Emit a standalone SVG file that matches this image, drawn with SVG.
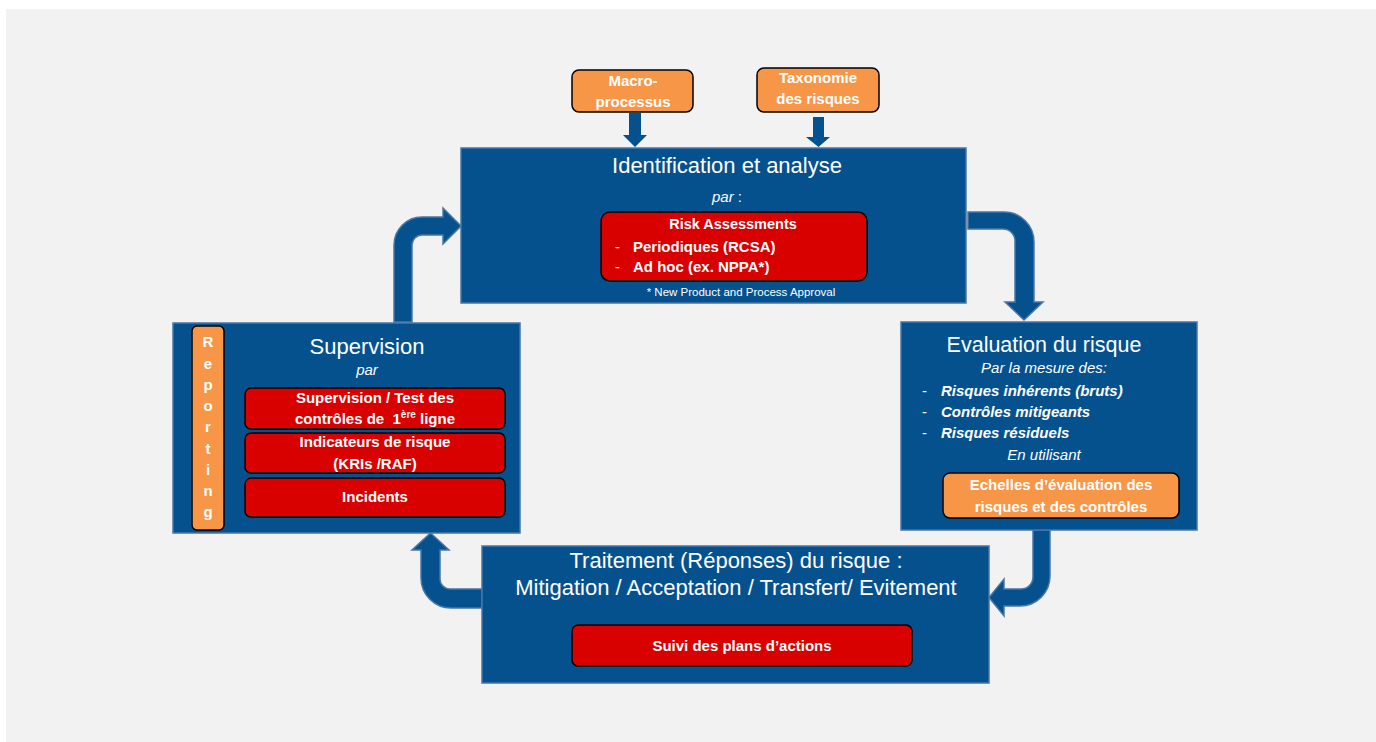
<svg xmlns="http://www.w3.org/2000/svg" width="1376" height="742" viewBox="0 0 1376 742">
<style>
.box{fill:#05518e;stroke:#4a76a6;stroke-width:1.5}
.red{fill:#d90000;stroke:#000;stroke-width:1.5}
.org{fill:#f79646;stroke:#000;stroke-width:1.5}
.arr{fill:#05518e;stroke:#4a76a6;stroke-width:1.5;stroke-linejoin:miter}
text{font-family:"Liberation Sans",Arial,sans-serif;fill:#fff}
.t{font-size:22px;text-anchor:middle}
.it{font-size:15px;font-style:italic;text-anchor:middle}
.b{font-size:15px;font-weight:bold;text-anchor:middle}
.bl{font-size:15px;font-weight:bold}
.bi{font-size:15px;font-weight:bold;font-style:italic}
.d{font-size:15px}
.sm{font-size:11.5px;text-anchor:middle}
</style>
<rect x="0" y="0" width="1376" height="742" fill="#ffffff"/>
<rect x="6" y="9" width="1370" height="733" fill="#f2f2f2"/>

<g id="connectors">
  <path class="arr" d="M394,322 L394,245 A28,28 0 0 1 422,217 L443,217 L443,208 L461,226 L443,244 L443,235 L422,235 A10,10 0 0 0 412,245 L412,322 Z"/>
  <path class="arr" d="M968,212 L1004,212 A30,30 0 0 1 1034,242 L1034,302 L1043,302 L1024,320 L1005,302 L1015,302 L1015,241 A12,12 0 0 0 1003,229 L968,229 Z"/>
  <path class="arr" d="M1033,530 L1050,530 L1050,576 A30,30 0 0 1 1020,606 L1004,606 L1004,616 L989,597.5 L1004,579 L1004,589 L1021,589 A12,12 0 0 0 1033,577 Z"/>
  <path class="arr" d="M482,589 L450,589 A10,10 0 0 1 440,579 L440,550 L449,550 L430.5,533 L412,550 L421,550 L421,578 A30,30 0 0 0 451,608 L482,608 Z"/>
  <path fill="#05518e" d="M629,113 L641,113 L641,135 L647,135 L635,147 L623,135 L629,135 Z"/>
  <path fill="#05518e" d="M813,117 L824,117 L824,137 L830,137 L818.5,147 L806,137 L813,137 Z"/>
</g>

<g id="macro">
  <rect class="org" x="572" y="70" width="121" height="42" rx="7"/>
  <text class="b" x="633" y="86">Macro-</text>
  <text class="b" x="633" y="107">processus</text>
</g>

<g id="taxonomie">
  <rect class="org" x="757" y="68" width="122" height="44" rx="7"/>
  <text class="b" x="818" y="83">Taxonomie</text>
  <text class="b" x="818" y="104">des risques</text>
</g>

<g id="identification">
  <rect class="box" x="461" y="148" width="505" height="155"/>
  <text class="t" x="727" y="173">Identification et analyse</text>
  <text class="it" x="727" y="202"><tspan>par</tspan><tspan font-style="normal"> :</tspan></text>
  <rect class="red" x="601" y="212" width="266" height="69" rx="9"/>
  <text class="b" x="733" y="229" style="font-size:14.5px">Risk Assessments</text>
  <text class="d" x="615" y="252">-</text>
  <text class="bl" x="633" y="252">Periodiques (RCSA)</text>
  <text class="d" x="615" y="272">-</text>
  <text class="bl" x="633" y="272">Ad hoc (ex. NPPA*)</text>
  <text class="sm" x="741" y="296">* New Product and Process Approval</text>
</g>

<g id="evaluation">
  <rect class="box" x="901" y="322" width="296" height="208"/>
  <text class="t" x="1044" y="352" style="font-size:21.5px">Evaluation du risque</text>
  <text class="it" x="1044" y="373">Par la mesure des:</text>
  <text class="d" x="922" y="396">-</text>
  <text class="bi" x="941" y="396">Risques inhérents (bruts)</text>
  <text class="d" x="922" y="417">-</text>
  <text class="bi" x="941" y="417">Contrôles mitigeants</text>
  <text class="d" x="922" y="438">-</text>
  <text class="bi" x="941" y="438">Risques résiduels</text>
  <text class="it" x="1044" y="460">En utilisant</text>
  <rect class="org" x="943" y="473" width="236" height="45" rx="7"/>
  <text class="b" x="1061" y="490">Echelles d’évaluation des</text>
  <text class="b" x="1061" y="512">risques et des contrôles</text>
</g>

<g id="traitement">
  <rect class="box" x="482" y="546" width="507" height="137"/>
  <text class="t" x="736" y="568">Traitement (Réponses) du risque :</text>
  <text class="t" x="736" y="595">Mitigation / Acceptation / Transfert/ Evitement</text>
  <rect class="red" x="572" y="625" width="340" height="41" rx="6"/>
  <text class="b" x="742" y="651">Suivi des plans d’actions</text>
</g>

<g id="supervision">
  <rect class="box" x="173" y="323" width="347" height="210"/>
  <text class="t" x="367" y="354">Supervision</text>
  <text class="it" x="367" y="375">par</text>
  <rect class="red" x="245" y="388" width="260" height="41" rx="6"/>
  <text class="b" x="375" y="403">Supervision / Test des</text>
  <text class="b" x="375" y="424">contrôles de&#160; 1<tspan font-size="10" dy="-6">ère</tspan><tspan dy="6"> ligne</tspan></text>
  <rect class="red" x="245" y="433" width="260" height="40" rx="6"/>
  <text class="b" x="375" y="447">Indicateurs de risque</text>
  <text class="b" x="375" y="469">(KRIs /RAF)</text>
  <rect class="red" x="245" y="478" width="260" height="39" rx="6"/>
  <text class="b" x="375" y="502">Incidents</text>
</g>

<g id="reporting">
  <rect class="org" x="192" y="326" width="32" height="204" rx="5"/>
  <text class="b" x="208" y="347">R</text>
  <text class="b" x="208" y="369">e</text>
  <text class="b" x="208" y="390">p</text>
  <text class="b" x="208" y="411">o</text>
  <text class="b" x="208" y="432">r</text>
  <text class="b" x="208" y="454">t</text>
  <text class="b" x="208" y="475">i</text>
  <text class="b" x="208" y="496">n</text>
  <text class="b" x="208" y="517">g</text>
</g>
</svg>
